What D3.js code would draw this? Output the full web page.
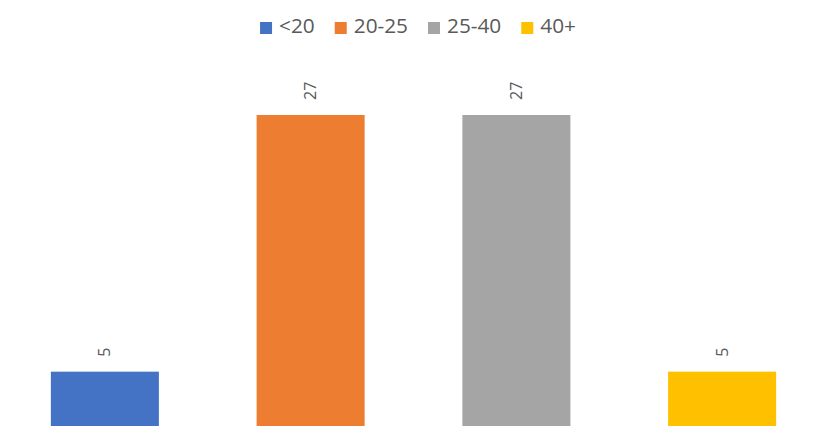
<!DOCTYPE html>
<html>
<head>
<meta charset="utf-8">
<script src="https://cdn.jsdelivr.net/npm/d3@7"></script>
<style>
  html, body { margin: 0; padding: 0; background: #fff; overflow: hidden; }
  svg { display: block; }
</style>
</head>
<body>
<svg id="chart" width="836" height="426"></svg>
<script>
const categories = ["<20", "20-25", "25-40", "40+"];
const values = [5, 27, 27, 5];
const colors = ["#4472C4", "#ED7D31", "#A5A5A5", "#FFC000"];

const W = 836, H = 426;
const svg = d3.select("#chart");
const font = "'Open Sans', 'Segoe UI', sans-serif";
const textColor = "#595959";

const x = d3.scaleBand().domain(categories).range([2, 825]).paddingInner(0.475).paddingOuter(0.2375);
const y = d3.scaleLinear().domain([0, 30]).range([430, 80]);
const color = d3.scaleOrdinal().domain(categories).range(colors);

const data = categories.map((c, i) => ({ c, v: values[i] }));

svg.append("g").selectAll("rect").data(data).join("rect")
  .attr("x", d => x(d.c))
  .attr("y", d => y(d.v))
  .attr("width", x.bandwidth())
  .attr("height", d => y(0) - y(d.v))
  .attr("fill", d => color(d.c));

svg.append("g").selectAll("text").data(data).join("text")
  .attr("transform", d => `translate(${x(d.c) + x.bandwidth() / 2},${y(d.v) - 15}) rotate(-90)`)
  .attr("dy", "0.35em")
  .attr("text-anchor", "start")
  .attr("font-family", font)
  .attr("font-size", 16)
  .attr("fill", textColor)
  .text(d => d.v);

// Legend
const legend = svg.append("g");
const sq = 12, gapSqText = 7, gapItems = 20;
let cx = 0;
categories.forEach(c => {
  const g = legend.append("g").attr("transform", `translate(${cx},0)`);
  g.append("rect").attr("x", 0).attr("y", 22).attr("width", sq).attr("height", sq).attr("fill", color(c));
  const t = g.append("text")
    .attr("x", sq + gapSqText).attr("y", 33)
    .attr("font-family", font).attr("font-size", 20.8)
    .attr("fill", textColor).text(c);
  cx += sq + gapSqText + t.node().getComputedTextLength() + gapItems;
});
const totalW = cx - gapItems;
legend.attr("transform", `translate(${(W - totalW) / 2},0)`);
</script>
</body>
</html>
